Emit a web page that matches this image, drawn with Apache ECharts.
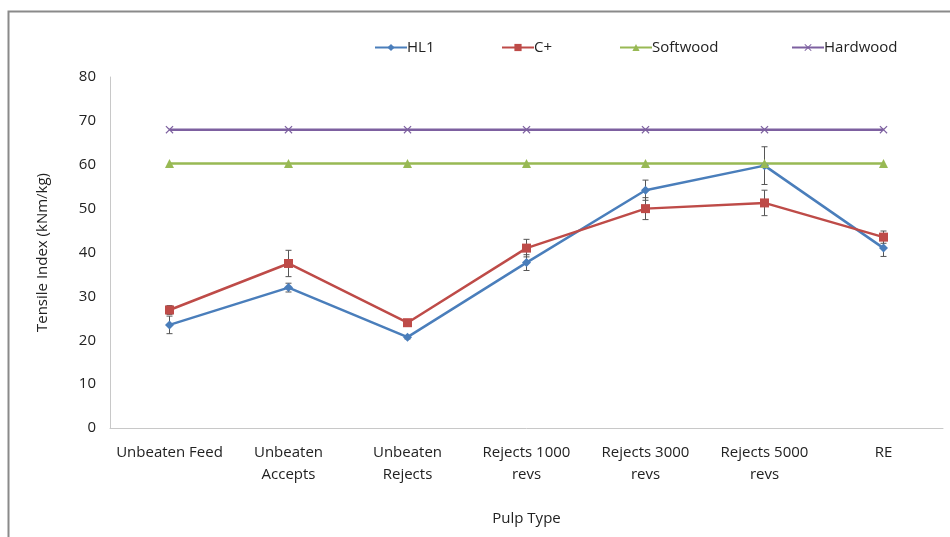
<!DOCTYPE html>
<html>
<head>
<meta charset="utf-8">
<script src="https://cdn.jsdelivr.net/npm/echarts@6/dist/echarts.min.js"></script>
<style>html,body{margin:0;padding:0;background:#fff}#c{width:950px;height:537px}</style>
</head>
<body>
<div id="c"></div>
<script>
const categories = ['Unbeaten Feed', 'Unbeaten\nAccepts', 'Unbeaten\nRejects', 'Rejects 1000\nrevs', 'Rejects 3000\nrevs', 'Rejects 5000\nrevs', 'RE'];
const hl1 = [23.5, 32.0, 20.7, 37.7, 54.2, 59.8, 41.0];
const hl1Err = [2.0, 1.0, 0.4, 1.8, 2.3, 4.3, 1.9];
const cplus = [26.9, 37.5, 24.0, 41.0, 50.0, 51.3, 43.5];
const cplusErr = [1.0, 3.0, 0.4, 2.0, 2.5, 2.9, 1.4];
const softwood = [60.3, 60.3, 60.3, 60.3, 60.3, 60.3, 60.3];
const hardwood = [68.0, 68.0, 68.0, 68.0, 68.0, 68.0, 68.0];
const yTicks = [0, 10, 20, 30, 40, 50, 60, 70, 80];

const FONT = '"Open Sans", sans-serif';
const FS = 15;
const xPath = 'path://M0,1L1,0L5,4L9,0L10,1L6,5L10,9L9,10L5,6L1,10L0,9L4,5Z';

function errSeries(vals, errs) {
  return {
    type: 'custom',
    data: vals.map((v, i) => [i, v - errs[i], v + errs[i]]),
    z: 1,
    silent: true,
    renderItem: function (params, api) {
      const lo = api.coord([api.value(0), api.value(1)]);
      const hi = api.coord([api.value(0), api.value(2)]);
      const w = 3;
      const st = { stroke: '#555', lineWidth: 1 };
      return {
        type: 'group',
        children: [
          { type: 'line', shape: { x1: lo[0], y1: lo[1], x2: hi[0], y2: hi[1] }, style: st },
          { type: 'line', shape: { x1: lo[0] - w, y1: lo[1], x2: lo[0] + w, y2: lo[1] }, style: st },
          { type: 'line', shape: { x1: hi[0] - w, y1: hi[1], x2: hi[0] + w, y2: hi[1] }, style: st }
        ]
      };
    }
  };
}

const chart = echarts.init(document.getElementById('c'));
const legendBase = { top: 40, padding: 0, itemWidth: 32, itemHeight: 9, itemGap: 0, textStyle: { fontFamily: FONT, fontSize: FS, color: '#222', padding: [0, 0, 0, -5] } };
chart.setOption({
  animation: false,
  backgroundColor: '#fff',
  graphic: [{ type: 'rect', shape: { x: 8.5, y: 11.5, width: 1000, height: 1000 }, style: { fill: 'none', stroke: '#8a8a8a', lineWidth: 2 }, silent: true }],
  legend: [
    Object.assign({ left: 374, data: ['HL1'] }, legendBase),
    Object.assign({ left: 501, data: ['C+'] }, legendBase),
    Object.assign({ left: 619, data: ['Softwood'] }, legendBase),
    Object.assign({ left: 791, data: ['Hardwood'] }, legendBase)
  ],
  grid: { left: 110, right: 7, top: 77, bottom: 109 },
  xAxis: {
    type: 'category',
    data: categories,
    boundaryGap: true,
    axisLine: { lineStyle: { color: '#c8c8c8', width: 1 } },
    axisTick: { show: false },
    axisLabel: { fontFamily: FONT, fontSize: FS, color: '#222', margin: 14, lineHeight: 22, interval: 0 },
    name: 'Pulp Type',
    nameLocation: 'middle',
    nameGap: 83,
    nameTextStyle: { fontFamily: FONT, fontSize: FS, color: '#222' }
  },
  yAxis: {
    type: 'value',
    min: yTicks[0],
    max: yTicks[yTicks.length - 1],
    interval: 10,
    splitLine: { show: false },
    axisLine: { show: true, lineStyle: { color: '#c8c8c8', width: 1 } },
    axisTick: { show: false },
    axisLabel: { fontFamily: FONT, fontSize: FS, color: '#222', margin: 14 },
    name: 'Tensile Index (kNm/kg)',
    nameLocation: 'middle',
    nameGap: 60,
    nameTextStyle: { fontFamily: FONT, fontSize: FS, color: '#222' }
  },
  series: [
    { name: 'HL1', type: 'line', data: hl1, z: 3, symbol: 'diamond', symbolSize: 9, color: '#4A7EBB', lineStyle: { width: 2.5 } },
    { name: 'C+', type: 'line', data: cplus, z: 3, symbol: 'rect', symbolSize: 9, color: '#BE4B48', lineStyle: { width: 2.5 } },
    { name: 'Softwood', type: 'line', data: softwood, z: 3, symbol: 'triangle', symbolSize: 9, color: '#98B954', lineStyle: { width: 2.5 } },
    { name: 'Hardwood', type: 'line', data: hardwood, z: 3, symbol: xPath, symbolSize: 8, color: '#7D60A0', lineStyle: { width: 2.5 } },
    errSeries(hl1, hl1Err),
    errSeries(cplus, cplusErr)
  ]
});
</script>
</body>
</html>
